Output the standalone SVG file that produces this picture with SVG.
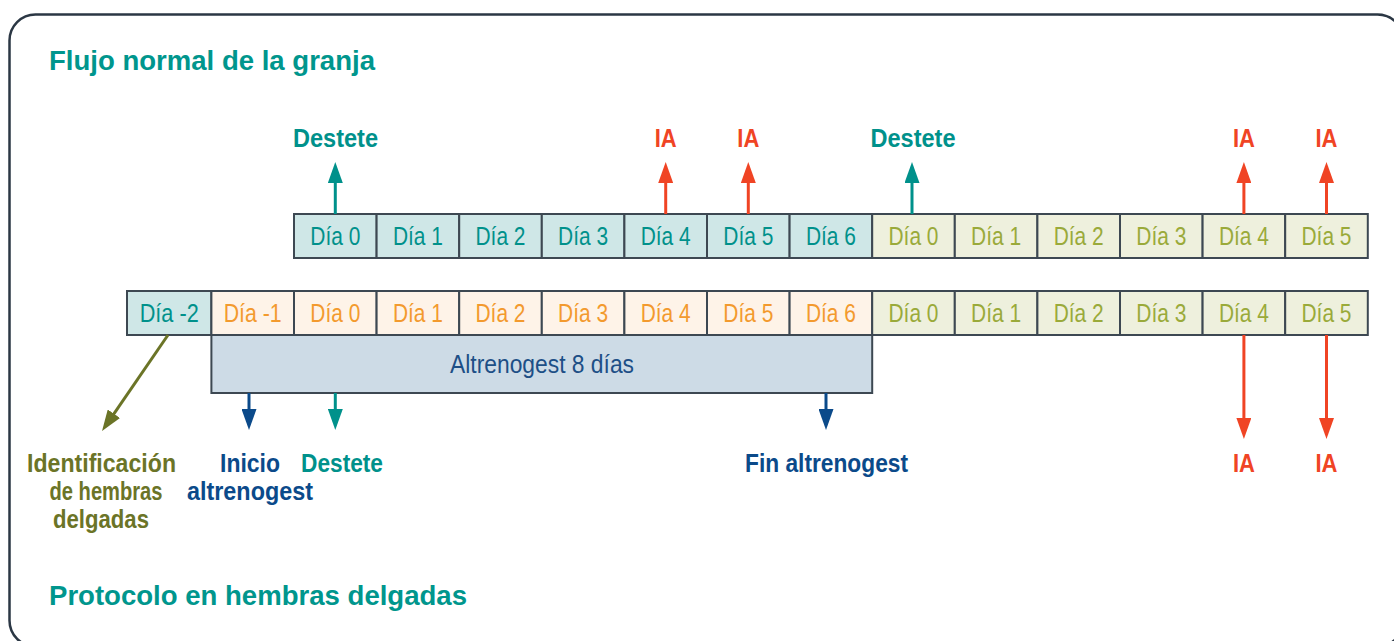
<svg xmlns="http://www.w3.org/2000/svg" width="1394" height="641" viewBox="0 0 1394 641">
  <style>
    .cell { stroke: #3d4852; stroke-width: 2; }
    .teal-c { fill: #cfe7e7; }
    .orange-c { fill: #fef3e8; }
    .green-c { fill: #eef0dd; }
    .day { font-family: "Liberation Sans", Arial, sans-serif; font-size: 25px; text-anchor: middle; }
    .teal-t { fill: #00918b; }
    .orange-t { fill: #f39a2e; }
    .green-t { fill: #9aaa3a; }
    .lbl { font-family: "Liberation Sans", Arial, sans-serif; font-weight: bold; font-size: 26px; text-anchor: middle; }
    .head { font-family: "Liberation Sans", Arial, sans-serif; font-weight: bold; font-size: 28px; fill: #00968d; }
    .c-teal { fill: #00918b; }
    .c-red { fill: #f04424; }
    .c-blue { fill: #0b4a8a; }
    .c-olive { fill: #6b7427; }
    .conn { stroke-width: 3; fill: none; }
  </style>
  <defs>
    <marker id="ah-teal" markerUnits="userSpaceOnUse" markerWidth="21" markerHeight="15" refX="11" refY="7.5" orient="auto">
      <path d="M0,0 L21,7.5 L0,15 z" fill="#00918b"/>
    </marker>
    <marker id="ah-red" markerUnits="userSpaceOnUse" markerWidth="21" markerHeight="15" refX="11" refY="7.5" orient="auto">
      <path d="M0,0 L21,7.5 L0,15 z" fill="#f04424"/>
    </marker>
    <marker id="ah-blue" markerUnits="userSpaceOnUse" markerWidth="21" markerHeight="15" refX="11" refY="7.5" orient="auto">
      <path d="M0,0 L21,7.5 L0,15 z" fill="#0b4a8a"/>
    </marker>
    <marker id="ah-olive" markerUnits="userSpaceOnUse" markerWidth="21" markerHeight="15" refX="11" refY="7.5" orient="auto">
      <path d="M0,0 L21,7.5 L0,15 z" fill="#6b7427"/>
    </marker>
  </defs>

  <rect width="1394" height="641" fill="#ffffff"/>

  <!-- outer frame -->
  <rect id="frame" x="9.5" y="14.5" width="1394" height="632" rx="26" ry="26" fill="none" stroke="#2b3744" stroke-width="2.5"/>

  <!-- section titles -->
  <text id="title-top" class="head" x="49" y="70" textLength="326" lengthAdjust="spacingAndGlyphs">Flujo normal de la granja</text>
  <text id="title-bottom" class="head" x="49" y="605" textLength="418" lengthAdjust="spacingAndGlyphs">Protocolo en hembras delgadas</text>

  <!-- normal farm flow row -->
  <g id="row-normal">
    <g id="n-d0"><rect class="cell teal-c" x="294" y="214" width="82.6" height="44"/><text class="day teal-t" x="335.3" y="245" textLength="50" lengthAdjust="spacingAndGlyphs">Día 0</text></g>
    <g id="n-d1"><rect class="cell teal-c" x="376.6" y="214" width="82.6" height="44"/><text class="day teal-t" x="417.9" y="245" textLength="50" lengthAdjust="spacingAndGlyphs">Día 1</text></g>
    <g id="n-d2"><rect class="cell teal-c" x="459.2" y="214" width="82.6" height="44"/><text class="day teal-t" x="500.5" y="245" textLength="50" lengthAdjust="spacingAndGlyphs">Día 2</text></g>
    <g id="n-d3"><rect class="cell teal-c" x="541.8" y="214" width="82.6" height="44"/><text class="day teal-t" x="583.1" y="245" textLength="50" lengthAdjust="spacingAndGlyphs">Día 3</text></g>
    <g id="n-d4"><rect class="cell teal-c" x="624.4" y="214" width="82.6" height="44"/><text class="day teal-t" x="665.7" y="245" textLength="50" lengthAdjust="spacingAndGlyphs">Día 4</text></g>
    <g id="n-d5"><rect class="cell teal-c" x="707" y="214" width="82.6" height="44"/><text class="day teal-t" x="748.3" y="245" textLength="50" lengthAdjust="spacingAndGlyphs">Día 5</text></g>
    <g id="n-d6"><rect class="cell teal-c" x="789.6" y="214" width="82.6" height="44"/><text class="day teal-t" x="830.9" y="245" textLength="50" lengthAdjust="spacingAndGlyphs">Día 6</text></g>
    <g id="n-e0"><rect class="cell green-c" x="872.2" y="214" width="82.6" height="44"/><text class="day green-t" x="913.5" y="245" textLength="50" lengthAdjust="spacingAndGlyphs">Día 0</text></g>
    <g id="n-e1"><rect class="cell green-c" x="954.8" y="214" width="82.6" height="44"/><text class="day green-t" x="996.1" y="245" textLength="50" lengthAdjust="spacingAndGlyphs">Día 1</text></g>
    <g id="n-e2"><rect class="cell green-c" x="1037.4" y="214" width="82.6" height="44"/><text class="day green-t" x="1078.7" y="245" textLength="50" lengthAdjust="spacingAndGlyphs">Día 2</text></g>
    <g id="n-e3"><rect class="cell green-c" x="1120" y="214" width="82.6" height="44"/><text class="day green-t" x="1161.3" y="245" textLength="50" lengthAdjust="spacingAndGlyphs">Día 3</text></g>
    <g id="n-e4"><rect class="cell green-c" x="1202.6" y="214" width="82.6" height="44"/><text class="day green-t" x="1243.9" y="245" textLength="50" lengthAdjust="spacingAndGlyphs">Día 4</text></g>
    <g id="n-e5"><rect class="cell green-c" x="1285.2" y="214" width="82.6" height="44"/><text class="day green-t" x="1326.5" y="245" textLength="50" lengthAdjust="spacingAndGlyphs">Día 5</text></g>
  </g>

  <!-- thin sows protocol row -->
  <g id="row-protocol">
    <g id="p-m2"><rect class="cell teal-c" x="127" y="291" width="84.4" height="44"/><text class="day teal-t" x="169.2" y="322" textLength="59" lengthAdjust="spacingAndGlyphs">Día -2</text></g>
    <g id="p-m1"><rect class="cell orange-c" x="211.4" y="291" width="82.6" height="44"/><text class="day orange-t" x="252.7" y="322" textLength="58" lengthAdjust="spacingAndGlyphs">Día -1</text></g>
    <g id="p-d0"><rect class="cell orange-c" x="294" y="291" width="82.6" height="44"/><text class="day orange-t" x="335.3" y="322" textLength="50" lengthAdjust="spacingAndGlyphs">Día 0</text></g>
    <g id="p-d1"><rect class="cell orange-c" x="376.6" y="291" width="82.6" height="44"/><text class="day orange-t" x="417.9" y="322" textLength="50" lengthAdjust="spacingAndGlyphs">Día 1</text></g>
    <g id="p-d2"><rect class="cell orange-c" x="459.2" y="291" width="82.6" height="44"/><text class="day orange-t" x="500.5" y="322" textLength="50" lengthAdjust="spacingAndGlyphs">Día 2</text></g>
    <g id="p-d3"><rect class="cell orange-c" x="541.8" y="291" width="82.6" height="44"/><text class="day orange-t" x="583.1" y="322" textLength="50" lengthAdjust="spacingAndGlyphs">Día 3</text></g>
    <g id="p-d4"><rect class="cell orange-c" x="624.4" y="291" width="82.6" height="44"/><text class="day orange-t" x="665.7" y="322" textLength="50" lengthAdjust="spacingAndGlyphs">Día 4</text></g>
    <g id="p-d5"><rect class="cell orange-c" x="707" y="291" width="82.6" height="44"/><text class="day orange-t" x="748.3" y="322" textLength="50" lengthAdjust="spacingAndGlyphs">Día 5</text></g>
    <g id="p-d6"><rect class="cell orange-c" x="789.6" y="291" width="82.6" height="44"/><text class="day orange-t" x="830.9" y="322" textLength="50" lengthAdjust="spacingAndGlyphs">Día 6</text></g>
    <g id="p-e0"><rect class="cell green-c" x="872.2" y="291" width="82.6" height="44"/><text class="day green-t" x="913.5" y="322" textLength="50" lengthAdjust="spacingAndGlyphs">Día 0</text></g>
    <g id="p-e1"><rect class="cell green-c" x="954.8" y="291" width="82.6" height="44"/><text class="day green-t" x="996.1" y="322" textLength="50" lengthAdjust="spacingAndGlyphs">Día 1</text></g>
    <g id="p-e2"><rect class="cell green-c" x="1037.4" y="291" width="82.6" height="44"/><text class="day green-t" x="1078.7" y="322" textLength="50" lengthAdjust="spacingAndGlyphs">Día 2</text></g>
    <g id="p-e3"><rect class="cell green-c" x="1120" y="291" width="82.6" height="44"/><text class="day green-t" x="1161.3" y="322" textLength="50" lengthAdjust="spacingAndGlyphs">Día 3</text></g>
    <g id="p-e4"><rect class="cell green-c" x="1202.6" y="291" width="82.6" height="44"/><text class="day green-t" x="1243.9" y="322" textLength="50" lengthAdjust="spacingAndGlyphs">Día 4</text></g>
    <g id="p-e5"><rect class="cell green-c" x="1285.2" y="291" width="82.6" height="44"/><text class="day green-t" x="1326.5" y="322" textLength="50" lengthAdjust="spacingAndGlyphs">Día 5</text></g>
  </g>

  <!-- altrenogest treatment bar -->
  <g id="altrenogest-bar">
    <rect class="cell" x="211.4" y="335" width="660.8" height="58" fill="#cddbe6"/>
    <text class="day" x="542" y="373" fill="#1d4f86" textLength="184" lengthAdjust="spacingAndGlyphs">Altrenogest 8 días</text>
  </g>

  <!-- connectors -->
  <g id="connectors">
    <line class="conn" stroke="#00918b" x1="335.3" y1="214" x2="335.3" y2="172" marker-end="url(#ah-teal)"/>
    <line class="conn" stroke="#f04424" x1="665.7" y1="214" x2="665.7" y2="172" marker-end="url(#ah-red)"/>
    <line class="conn" stroke="#f04424" x1="748.3" y1="214" x2="748.3" y2="172" marker-end="url(#ah-red)"/>
    <line class="conn" stroke="#00918b" x1="912" y1="214" x2="912" y2="172" marker-end="url(#ah-teal)"/>
    <line class="conn" stroke="#f04424" x1="1243.9" y1="214" x2="1243.9" y2="172" marker-end="url(#ah-red)"/>
    <line class="conn" stroke="#f04424" x1="1326.5" y1="214" x2="1326.5" y2="172" marker-end="url(#ah-red)"/>

    <line class="conn" stroke="#6b7427" x1="168" y1="335" x2="107.7" y2="422.8" marker-end="url(#ah-olive)"/>
    <line class="conn" stroke="#0b4a8a" x1="249" y1="393" x2="249" y2="420" marker-end="url(#ah-blue)"/>
    <line class="conn" stroke="#00918b" x1="335.3" y1="393" x2="335.3" y2="420" marker-end="url(#ah-teal)"/>
    <line class="conn" stroke="#0b4a8a" x1="826" y1="393" x2="826" y2="420" marker-end="url(#ah-blue)"/>

    <line class="conn" stroke="#f04424" x1="1243.9" y1="335" x2="1243.9" y2="429" marker-end="url(#ah-red)"/>
    <line class="conn" stroke="#f04424" x1="1326.5" y1="335" x2="1326.5" y2="429" marker-end="url(#ah-red)"/>
  </g>

  <!-- event labels above the normal flow -->
  <g id="lbl-destete-1"><text class="lbl c-teal" x="335.5" y="147" textLength="85" lengthAdjust="spacingAndGlyphs">Destete</text></g>
  <g id="lbl-ia-1"><text class="lbl c-red" x="665.7" y="147" textLength="22" lengthAdjust="spacingAndGlyphs">IA</text></g>
  <g id="lbl-ia-2"><text class="lbl c-red" x="748.3" y="147" textLength="22" lengthAdjust="spacingAndGlyphs">IA</text></g>
  <g id="lbl-destete-2"><text class="lbl c-teal" x="913" y="147" textLength="85" lengthAdjust="spacingAndGlyphs">Destete</text></g>
  <g id="lbl-ia-3"><text class="lbl c-red" x="1243.9" y="147" textLength="22" lengthAdjust="spacingAndGlyphs">IA</text></g>
  <g id="lbl-ia-4"><text class="lbl c-red" x="1326.5" y="147" textLength="22" lengthAdjust="spacingAndGlyphs">IA</text></g>

  <!-- event labels below the protocol -->
  <g id="lbl-identificacion">
    <text class="lbl c-olive" x="101.5" y="472" textLength="149" lengthAdjust="spacingAndGlyphs">Identificación</text>
    <text class="lbl c-olive" x="106" y="500" textLength="113" lengthAdjust="spacingAndGlyphs">de hembras</text>
    <text class="lbl c-olive" x="101" y="528" textLength="96" lengthAdjust="spacingAndGlyphs">delgadas</text>
  </g>
  <g id="lbl-inicio">
    <text class="lbl c-blue" x="250" y="472" textLength="60" lengthAdjust="spacingAndGlyphs">Inicio</text>
    <text class="lbl c-blue" x="250" y="500" textLength="126" lengthAdjust="spacingAndGlyphs">altrenogest</text>
  </g>
  <g id="lbl-destete-3"><text class="lbl c-teal" x="342" y="472" textLength="82" lengthAdjust="spacingAndGlyphs">Destete</text></g>
  <g id="lbl-fin"><text class="lbl c-blue" x="826.5" y="472" textLength="163" lengthAdjust="spacingAndGlyphs">Fin altrenogest</text></g>
  <g id="lbl-ia-5"><text class="lbl c-red" x="1243.9" y="472" textLength="22" lengthAdjust="spacingAndGlyphs">IA</text></g>
  <g id="lbl-ia-6"><text class="lbl c-red" x="1326.5" y="472" textLength="22" lengthAdjust="spacingAndGlyphs">IA</text></g>
</svg>
